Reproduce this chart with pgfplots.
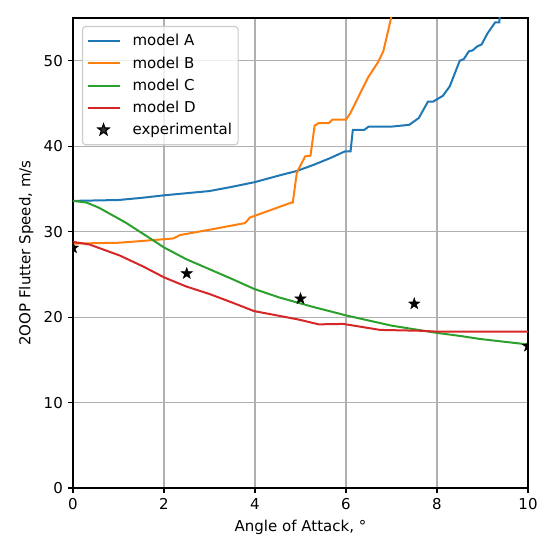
\documentclass[border=0pt]{standalone}
\usepackage{pgfplots}
\pgfplotsset{compat=1.18}
\usepackage{fontspec}
\setmainfont{DejaVu Sans}
\definecolor{cA}{HTML}{1F77B4}
\definecolor{cB}{HTML}{FF7F0E}
\definecolor{cC}{HTML}{2CA02C}
\definecolor{cD}{HTML}{D62728}
\definecolor{gridc}{HTML}{B0B0B0}
\pgfdeclareplotmark{fstar}{%
  \pgfpathmoveto{\pgfqpointpolar{90}{\pgfplotmarksize}}%
  \pgfpathlineto{\pgfqpointpolar{126}{0.4\pgfplotmarksize}}%
  \pgfpathlineto{\pgfqpointpolar{162}{\pgfplotmarksize}}%
  \pgfpathlineto{\pgfqpointpolar{198}{0.4\pgfplotmarksize}}%
  \pgfpathlineto{\pgfqpointpolar{234}{\pgfplotmarksize}}%
  \pgfpathlineto{\pgfqpointpolar{270}{0.4\pgfplotmarksize}}%
  \pgfpathlineto{\pgfqpointpolar{306}{\pgfplotmarksize}}%
  \pgfpathlineto{\pgfqpointpolar{342}{0.4\pgfplotmarksize}}%
  \pgfpathlineto{\pgfqpointpolar{18}{\pgfplotmarksize}}%
  \pgfpathlineto{\pgfqpointpolar{54}{0.4\pgfplotmarksize}}%
  \pgfpathclose
  \pgfusepathqfillstroke}
\begin{document}
\fontsize{15bp}{18bp}\selectfont
\begin{tikzpicture}
\begin{axis}[
  scale only axis,
  width=455bp, height=470bp,
  xmin=0, xmax=10, ymin=0, ymax=55,
  xtick={0,2,4,6,8,10},
  ytick={0,10,20,30,40,50},
  grid=major,
  major grid style={color=gridc, line width=1.1bp},
  axis line style={line width=1.1bp, black},
  tick style={line width=1.1bp, black},
  tick align=outside,
  major tick length=5bp,
  xtick pos=bottom, ytick pos=left,
  /pgf/number format/assume math mode=true,
  xlabel={Angle of Attack, °},
  ylabel={2OOP Flutter Speed, m/s},
  legend cell align=left,
  legend image code/.code={\draw[mark repeat=2,mark phase=2,#1] plot coordinates {(0bp,0bp) (16bp,0bp) (32bp,0bp)};},
  legend style={at={(0,1)}, anchor=north west, xshift=9bp, yshift=-8bp,
    draw=black!20, line width=1.1bp, rounded corners=3bp, fill=white, fill opacity=0.8, text opacity=1,
    row sep=4.5bp, column sep=10bp, inner xsep=4bp, inner ysep=6bp},
]
\addplot[cA, line width=2bp] coordinates {
(0,33.6) (0.5,33.65) (1.0,33.7) (1.5,33.95) (2.0,34.25) (2.5,34.5) (3.0,34.75) (3.5,35.25) (4.0,35.8) (4.55,36.6) (4.92,37.1) (5.28,37.8) (5.65,38.6) (5.98,39.4) (6.1,39.4) (6.15,41.9) (6.4,41.9) (6.5,42.3) (7.02,42.3) (7.39,42.5) (7.6,43.3) (7.8,45.2) (7.91,45.2) (8.13,45.9) (8.28,47.0) (8.5,50.0) (8.59,50.2) (8.7,51.1) (8.78,51.2) (8.89,51.7) (8.98,51.9) (9.11,53.2) (9.28,54.5) (9.37,54.5) (9.38,55.5)
};
\addlegendentry{model A}
\addplot[cB, line width=2bp] coordinates {
(0,28.6) (0.5,28.65) (1.0,28.7) (1.5,28.9) (2.2,29.2) (2.35,29.6) (3.08,30.3) (3.78,31.0) (3.89,31.65) (4.8,33.4) (4.83,33.4) (4.92,36.9) (5.1,38.8) (5.22,38.9) (5.31,42.4) (5.4,42.7) (5.62,42.7) (5.7,43.1) (6.0,43.1) (6.1,43.9) (6.48,48.0) (6.7,49.8) (6.82,51.1) (7.0,55.2)
};
\addlegendentry{model B}
\addplot[cC, line width=2bp] coordinates {
(0,33.6) (0.3,33.4) (0.57,32.8) (1.16,31.05) (1.67,29.3) (2.0,28.15) (2.48,26.8) (3.0,25.6) (3.5,24.45) (3.98,23.3) (4.53,22.3) (5.27,21.2) (6.0,20.2) (6.5,19.6) (7.0,19.0) (7.47,18.6) (8.0,18.15) (8.5,17.8) (8.93,17.45) (9.5,17.1) (10,16.8)
};
\addlegendentry{model C}
\addplot[cD, line width=2bp] coordinates {
(0,28.8) (0.36,28.5) (1.03,27.2) (1.55,25.9) (2.0,24.65) (2.48,23.6) (3.0,22.7) (3.5,21.7) (3.98,20.7) (4.38,20.3) (4.97,19.7) (5.4,19.15) (5.94,19.2) (6.75,18.5) (7.63,18.4) (8.0,18.3) (10,18.3)
};
\addlegendentry{model D}
\addplot[only marks, mark=fstar, mark size=6bp, black, clip mode=individual] coordinates {
(0,28.1) (2.5,25.1) (5,22.15) (7.5,21.55) (10,16.6)
};
\addlegendentry{experimental}
\end{axis}
\pgfresetboundingbox
\path ([shift={(-73bp,-63bp)}]current axis.south west) rectangle ([shift={(22bp,18bp)}]current axis.north east);
\end{tikzpicture}
\end{document}
